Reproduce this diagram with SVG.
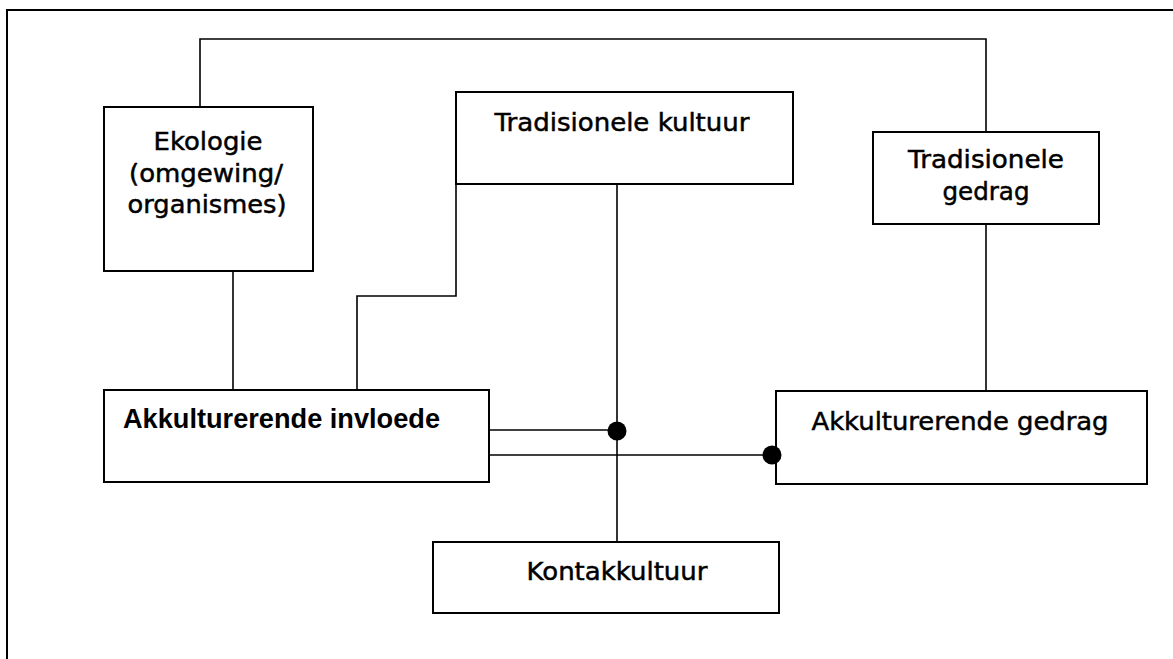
<svg xmlns="http://www.w3.org/2000/svg" width="1173" height="659" viewBox="0 0 1173 659">
<style>
.box{fill:#fff;stroke:#000;stroke-width:2}
.ln{fill:none;stroke:#000;stroke-width:1.6}
.frame{fill:none;stroke:#000;stroke-width:2}
.t{font-family:"DejaVu Sans",Verdana,sans-serif;font-size:25.5px;fill:#000;stroke:#000;stroke-width:0.5;text-anchor:middle}
.tb{font-family:"Liberation Sans",Arial,sans-serif;font-weight:bold;font-size:27px;fill:#000}
.dot{fill:#000}
</style>
<rect width="1173" height="659" fill="#fff"/>
<path class="frame" d="M7,659 V10 H1173"/>
<g id="ekologie">
<rect class="box" x="104" y="107" width="209" height="164"/>
<text class="t" x="208" y="150" textLength="109" lengthAdjust="spacingAndGlyphs">Ekologie</text>
<text class="t" x="206" y="182" textLength="154" lengthAdjust="spacingAndGlyphs">(omgewing/</text>
<text class="t" x="207" y="213" textLength="159" lengthAdjust="spacingAndGlyphs">organismes)</text>
</g>
<g id="tradisionele-kultuur">
<rect class="box" x="456" y="92" width="337" height="92"/>
<text class="t" x="622" y="131" textLength="255" lengthAdjust="spacingAndGlyphs">Tradisionele kultuur</text>
</g>
<g id="tradisionele-gedrag">
<rect class="box" x="873" y="132" width="226" height="92"/>
<text class="t" x="986" y="168" textLength="156" lengthAdjust="spacingAndGlyphs">Tradisionele</text>
<text class="t" x="986" y="200" textLength="87" lengthAdjust="spacingAndGlyphs">gedrag</text>
</g>
<g id="akkulturerende-invloede">
<rect class="box" x="104" y="390" width="385" height="92"/>
<text class="tb" x="123" y="428" textLength="317" lengthAdjust="spacingAndGlyphs">Akkulturerende invloede</text>
</g>
<g id="akkulturerende-gedrag">
<rect class="box" x="776" y="391" width="371" height="93"/>
<text class="t" x="960" y="430" textLength="297" lengthAdjust="spacingAndGlyphs">Akkulturerende gedrag</text>
</g>
<g id="kontakkultuur">
<rect class="box" x="433" y="542" width="346" height="71"/>
<text class="t" x="617" y="580" textLength="181" lengthAdjust="spacingAndGlyphs">Kontakkultuur</text>
</g>
<g id="connectors">
<path class="ln" d="M200,107 V39 H986 V132"/>
<path class="ln" d="M233,271 V390"/>
<path class="ln" d="M357,390 V296 H456 V184"/>
<path class="ln" d="M617,184 V542"/>
<path class="ln" d="M986,224 V391"/>
<path class="ln" d="M489,430 H617"/>
<path class="ln" d="M489,455 H772"/>
<circle class="dot" cx="617" cy="431" r="9.5"/>
<circle class="dot" cx="772" cy="455" r="9.5"/>
</g>
</svg>
